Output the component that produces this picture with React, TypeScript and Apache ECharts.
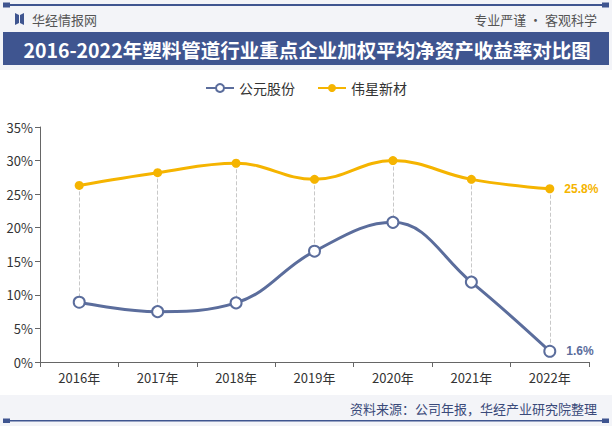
import React, { useEffect, useRef } from "react";
import * as echarts from "echarts";

const categories = ["2016年", "2017年", "2018年", "2019年", "2020年", "2021年", "2022年"];
const gongyuan = [8.9, 7.5, 8.8, 16.5, 20.8, 11.9, 1.6];
const weixing = [26.3, 28.2, 29.6, 27.2, 30.0, 27.2, 25.8];
const seriesNames = ["公元股份", "伟星新材"];
const yTicks = { min: 0, max: 35, interval: 5 };
const titleText = "2016-2022年塑料管道行业重点企业加权平均净资产收益率对比图";
const sourceText = "资料来源：公司年报，华经产业研究院整理";

const BLUE = "#5b6d9c";
const YELLOW = "#f5b400";
const DARK = "#3f5590";

export default function App() {
  const ref = useRef<HTMLDivElement>(null);
  useEffect(() => {
    const chart = echarts.init(ref.current!, undefined, { renderer: "svg" });
    const last = categories.length - 1;
    const pairs = categories.map((c, i) => [
      { coord: [c, weixing[i]] },
      { coord: [c, gongyuan[i]] },
    ]);
    chart.setOption({
      animation: false,
      backgroundColor: "#ffffff",
      graphic: [
        { type: "rect", shape: { x: 0, y: 0, width: 612, height: 70 }, style: { fill: "#f3f4f8" }, z: -10 },
        { type: "rect", shape: { x: 0, y: 395, width: 612, height: 31 }, style: { fill: "#f3f4f8" }, z: -10 },
        { type: "rect", shape: { x: 8, y: 4, width: 596, height: 2 }, style: { fill: DARK } },
        { type: "rect", shape: { x: 3, y: 2.5, width: 7, height: 5 }, style: { fill: DARK } },
        { type: "rect", shape: { x: 602, y: 2.5, width: 7, height: 5 }, style: { fill: DARK } },
        { type: "polygon", shape: { points: [[15, 13], [19, 15], [19, 23], [15, 25]] }, style: { fill: DARK } },
        { type: "polygon", shape: { points: [[24, 13], [20, 15], [20, 23], [24, 25]] }, style: { fill: DARK } },
        { type: "text", x: 32, y: 19, style: { text: "华经情报网", fill: "#555", font: "13px 'Noto Sans CJK SC'", verticalAlign: "middle" } },
        { type: "text", x: 597, y: 19, style: { text: "专业严谨 • 客观科学", fill: "#555", font: "13px 'Noto Sans CJK SC'", align: "right", verticalAlign: "middle" } },
        { type: "rect", shape: { x: 3, y: 32, width: 606, height: 33 }, style: { fill: DARK } },
        { type: "text", x: 307, y: 49, style: { text: titleText, fill: "#fff", font: "bold 19.5px 'Noto Sans CJK SC'", align: "center", verticalAlign: "middle" } },
        { type: "text", x: 597, y: 408, style: { text: sourceText, fill: "#3a4a7a", font: "13px 'Noto Sans CJK SC'", align: "right", verticalAlign: "middle" } },
        { type: "rect", shape: { x: 3, y: 420, width: 606, height: 1.5 }, style: { fill: DARK } },
        { type: "rect", shape: { x: 3, y: 418.5, width: 7, height: 4.5 }, style: { fill: DARK } },
        { type: "rect", shape: { x: 602, y: 418.5, width: 7, height: 4.5 }, style: { fill: DARK } },
      ],
      legend: {
        top: 76,
        left: "center",
        itemGap: 22,
        itemWidth: 28,
        itemHeight: 10,
        textStyle: { fontSize: 14, color: "#333", fontFamily: "Noto Sans CJK SC" },
        data: seriesNames,
      },
      grid: { left: 40, right: 23, top: 127, bottom: 64 },
      xAxis: {
        type: "category",
        data: categories,
        boundaryGap: true,
        axisLine: { lineStyle: { color: "#666" } },
        axisTick: { show: true, lineStyle: { color: "#666" } },
        axisLabel: { color: "#333", fontSize: 13, margin: 9, fontFamily: "Noto Sans CJK SC" },
      },
      yAxis: {
        type: "value",
        min: yTicks.min,
        max: yTicks.max,
        interval: yTicks.interval,
        axisLine: { show: true, lineStyle: { color: "#666" } },
        axisTick: { show: true, lineStyle: { color: "#666" } },
        splitLine: { show: false },
        axisLabel: { color: "#333", fontSize: 13, margin: 7, formatter: "{value}%", fontFamily: "Noto Sans CJK SC" },
      },
      series: [
        {
          name: seriesNames[0],
          type: "line",
          data: gongyuan,
          smooth: 0.4,
          symbol: "emptyCircle",
          symbolSize: 11,
          itemStyle: { color: BLUE, borderColor: BLUE, borderWidth: 1.5 },
          lineStyle: { color: BLUE, width: 3 },
          label: {
            show: true,
            position: "right",
            distance: 10,
            color: BLUE,
            fontWeight: "bold",
            fontSize: 12,
            formatter: (p: any) => (p.dataIndex === last ? p.value + "%" : ""),
          },
          markLine: {
            silent: true,
            symbol: ["none", "none"],
            label: { show: false },
            lineStyle: { color: "#c8c8c8", type: "dashed", width: 1 },
            data: pairs,
            z: 1,
          },
          z: 3,
        },
        {
          name: seriesNames[1],
          type: "line",
          data: weixing,
          smooth: 0.4,
          symbol: "circle",
          symbolSize: 9,
          itemStyle: { color: YELLOW },
          lineStyle: { color: YELLOW, width: 3 },
          label: {
            show: true,
            position: "right",
            distance: 10,
            color: YELLOW,
            fontWeight: "bold",
            fontSize: 12,
            formatter: (p: any) => (p.dataIndex === last ? p.value + "%" : ""),
          },
          z: 3,
        },
      ],
    });
    return () => chart.dispose();
  }, []);
  return <div ref={ref} style={{ width: 612, height: 426, position: "absolute", left: 0, top: 0 }} />;
}
